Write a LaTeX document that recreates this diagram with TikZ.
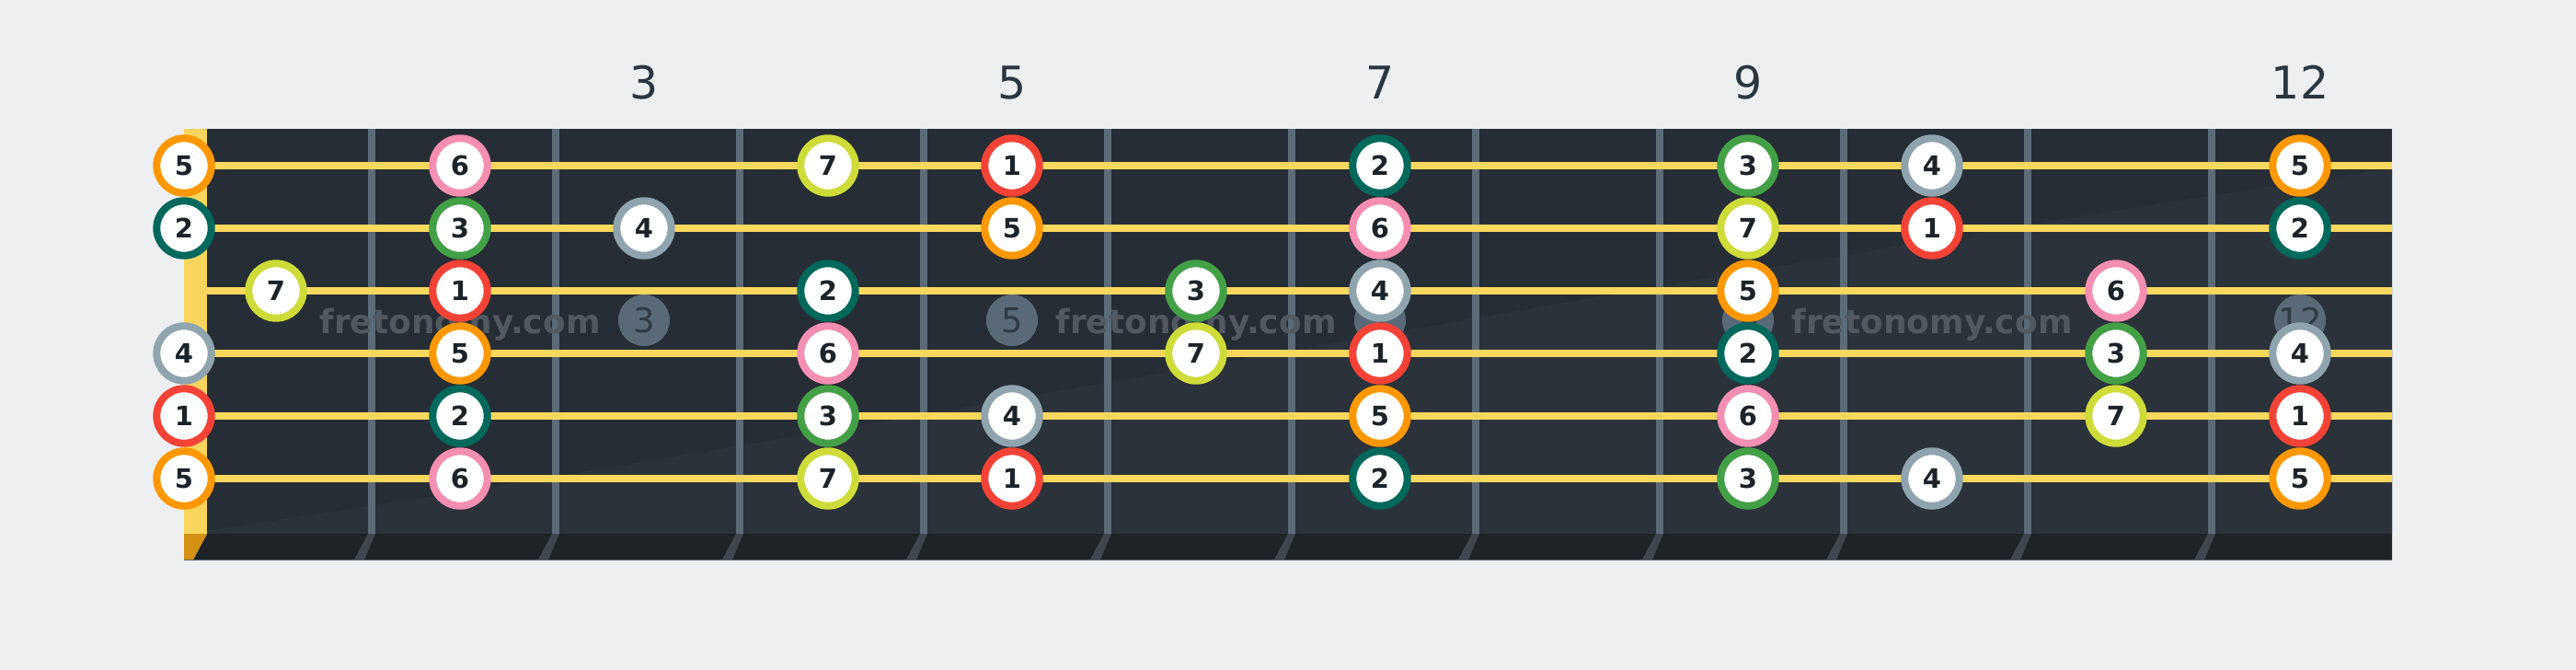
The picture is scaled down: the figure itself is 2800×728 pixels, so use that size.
\documentclass[tikz,border=0pt]{standalone}
\usepackage{fontspec}
\setmainfont{DejaVu Sans}
\usetikzlibrary{calc}
\definecolor{bg}{HTML}{EDEFF1}
\definecolor{board}{HTML}{272D34}
\definecolor{boardlight}{HTML}{2C3239}
\definecolor{strcol}{HTML}{F9D85E}
\definecolor{nutcol}{HTML}{F8D65E}
\definecolor{fretcol}{HTML}{5B6B78}
\definecolor{sidecol}{HTML}{1E2327}
\definecolor{sidefret}{HTML}{40464D}
\definecolor{nutside}{HTML}{D39012}
\definecolor{edgecol}{HTML}{5D6873}
\definecolor{markcol}{HTML}{5A6977}
\definecolor{marktext}{HTML}{2F3A44}
\definecolor{labelcol}{HTML}{2B3640}
\definecolor{wmcol}{HTML}{52585F}
\definecolor{dottext}{HTML}{1C2329}
\definecolor{deg1}{HTML}{F44336}
\definecolor{deg2}{HTML}{00695C}
\definecolor{deg3}{HTML}{43A047}
\definecolor{deg4}{HTML}{90A4AE}
\definecolor{deg5}{HTML}{FF9800}
\definecolor{deg6}{HTML}{F48FB1}
\definecolor{deg7}{HTML}{CDDC39}
\tikzset{
  notedot/.style={circle, draw=#1, line width=8pt, fill=white, minimum size=59.4pt,
    inner sep=0pt, text=dottext, font=\fontsize{29}{29}\selectfont\bfseries},
  fretmark/.style={circle, fill=markcol, minimum size=56pt, inner sep=0pt,
    text=marktext, font=\fontsize{37}{37}\selectfont},
  fretlabel/.style={inner sep=0pt, text=labelcol, font=\fontsize{49}{49}\selectfont},
  watermark/.style={inner sep=0pt, text=wmcol, font=\fontsize{36}{36}\selectfont\bfseries},
  stringline/.style={draw=strcol, line width=8pt},
  fretwire/.style={draw=fretcol, line width=8pt},
}
\begin{document}
\begin{tikzpicture}[x=1pt,y=-1pt]
\useasboundingbox (0,0) rectangle (2800,728);
\fill[bg] (0,0) rectangle (2800,728);
% board
\fill[board] (200,140) rectangle (2600,580);
\fill[boardlight] (200,580) .. controls (900,480) and (1800,300) .. (2600,183) -- (2600,580) -- cycle;
\fill[boardlight, opacity=0.5] (900,580) .. controls (1500,500) and (2100,420) .. (2600,380) -- (2600,580) -- cycle;
% fret wires
\foreach \k in {1,...,11}{
  \coordinate (ft\k) at (204+200*\k,140);
  \coordinate (fb\k) at (204+200*\k,580);
  \draw[fretwire] (ft\k) -- (fb\k);
}
% fret markers
\foreach \n/\xx in {3/700,5/1100,7/1500,9/1900,12/2500}{
  \node[fretmark] (m\n) at (\xx,348) {\n};
  \node[fretlabel, anchor=base] (l\n) at (\xx,107) {\n};
}
% watermark
\foreach \i/\xx in {1/500,2/1300,3/2100}{
  \node[watermark, anchor=base] (wm\i) at (\xx,362) {fretonomy.com};
}
% strings
\foreach \st/\yy in {1/180,2/248,3/316,4/384,5/452,6/520}{
  \coordinate (sa\st) at (225,\yy);
  \coordinate (sb\st) at (2600,\yy);
  \draw[stringline] (sa\st) -- (sb\st);
}
% nut
\fill[nutcol] (200,140) rectangle (225,580);
% side strip
\fill[sidecol] (225,580) -- (2600,580) -- (2600,608) -- (210,608) -- cycle;
\fill[nutside] (200,580) -- (225,580) -- (210,608) -- (200,608) -- cycle;
\foreach \k in {1,...,11}{
  \fill[sidefret] (200+200*\k,580) -- (208+200*\k,580) -- (196+200*\k,608) -- (185+200*\k,608) -- cycle;
}
\draw[edgecol, line width=1.5pt] (200,608.5) -- (2600,608.5);
% notes
\foreach \st/\yy/\notes in {
  1/180/{0/5,2/6,4/7,5/1,7/2,9/3,10/4,12/5},
  2/248/{0/2,2/3,3/4,5/5,7/6,9/7,10/1,12/2},
  3/316/{1/7,2/1,4/2,6/3,7/4,9/5,11/6},
  4/384/{0/4,2/5,4/6,6/7,7/1,9/2,11/3,12/4},
  5/452/{0/1,2/2,4/3,5/4,7/5,9/6,11/7,12/1},
  6/520/{0/5,2/6,4/7,5/1,7/2,9/3,10/4,12/5}}{
  \foreach \fr/\dg in \notes {
    \pgfmathsetmacro{\xx}{\fr==0 ? 200 : 100+200*\fr}
    \node[notedot=deg\dg] (n\st-\fr) at (\xx,\yy) {\dg};
  }
}
\end{tikzpicture}
\end{document}
